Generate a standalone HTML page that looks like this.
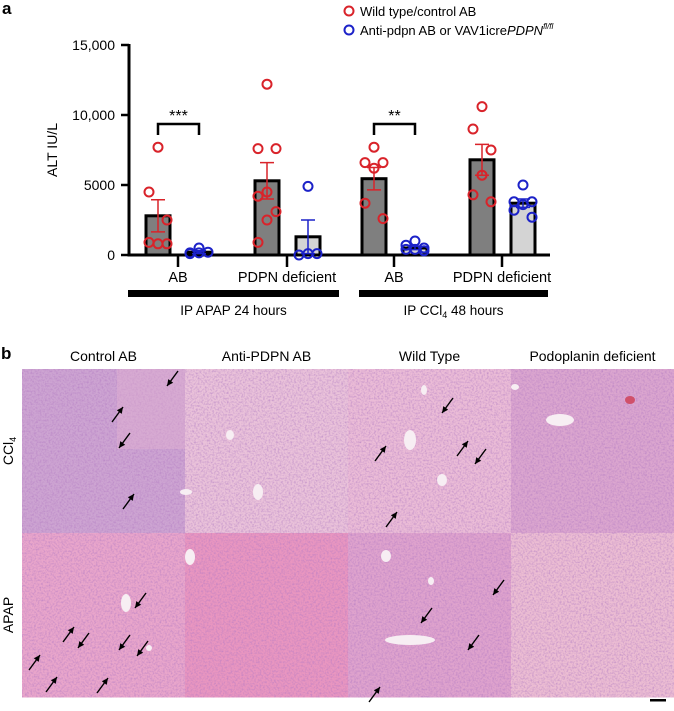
<!DOCTYPE html>
<html><head><meta charset="utf-8">
<style>
body{margin:0;background:#fff;width:674px;height:706px;overflow:hidden;font-family:"Liberation Sans",sans-serif;}
svg text{font-family:"Liberation Sans",sans-serif;}
</style></head>
<body>
<svg id="fig" width="674" height="706" viewBox="0 0 674 706" xmlns="http://www.w3.org/2000/svg">
<defs>
<filter id="tex" x="0" y="0" width="100%" height="100%">
<feTurbulence type="fractalNoise" baseFrequency="0.55" numOctaves="2" seed="3" result="n"/>
<feColorMatrix in="n" type="matrix" values="0 0 0 0 0.45  0 0 0 0 0.2  0 0 0 0 0.55  0 0 0 1.5 -0.6" result="m"/>
<feComposite in="m" in2="SourceGraphic" operator="in" result="c"/>
<feMerge><feMergeNode in="SourceGraphic"/><feMergeNode in="c"/></feMerge>
</filter>
</defs>
<text x="2" y="14" font-size="17" font-weight="bold">a</text>
<g id="legend">
<circle cx="349" cy="11" r="4.5" fill="none" stroke="#d9232a" stroke-width="2"/>
<text x="360" y="16" font-size="13">Wild type/control AB</text>
<circle cx="349" cy="30" r="4.5" fill="none" stroke="#1c22c8" stroke-width="2"/>
<text x="360" y="35" font-size="13">Anti-pdpn AB or VAV1icre<tspan font-style="italic">PDPN</tspan><tspan font-style="italic" font-size="8" dy="-6">fl/fl</tspan></text>
</g>
<g id="chart"></g>
<g id="panelb"></g>
</svg>
<script>
const categories = ["AB","PDPN deficient","AB","PDPN deficient"];
const groupLabels = ["IP APAP 24 hours","IP CCl4 48 hours"];
const yTicks = [0,5000,10000,15000];
const yTickLabels = ["0","5000","10,000","15,000"];
const redMeans = [2800,5300,5450,6800];
const redSem = [1150,1300,800,1100];
const blueMeans = [200,1300,500,3700];
const blueSem = [100,1200,120,300];
const redPoints = [[7700,4500,2500,800,900,800],[12200,7600,7600,4500,4200,3100,2500,900],[7700,6600,6600,6200,3700,2600],[10600,9000,7500,5700,4300,3800]];
const bluePoints = [[500,150,200,150,100],[4900,0,100,100],[1000,700,500,400,400,300],[5000,3800,3800,3600,3200,2700]];
const sigLabels = ["***","","**",""];

const NS="http://www.w3.org/2000/svg";
function mk(tag,attrs,parent){const e=document.createElementNS(NS,tag);for(const k in attrs)e.setAttribute(k,attrs[k]);parent.appendChild(e);return e;}
const chart=document.getElementById('chart');
const y0=255, pxPer=14/1000;
function yS(v){return y0-v*pxPer;}
function xCat(i){return [178,287,394,502][i];}
const bw=24, off=20;

let e=mk('line',{x1:129,y1:44,x2:129,y2:y0+1.5,stroke:'#000','stroke-width':3},chart);


e=mk('line',{x1:127.5,y1:y0,x2:550,y2:y0,stroke:'#000','stroke-width':3},chart);


yTicks.forEach((t,i)=>{
  const l=mk('line',{x1:121,y1:yS(t),x2:129,y2:yS(t),stroke:'#000','stroke-width':2.5},chart);
  
  
  const tx=mk('text',{x:115,y:yS(t)+5,'font-size':14,'text-anchor':'end'},chart);
  tx.textContent=yTickLabels[i];
  
  
});
e=mk('text',{x:0,y:0,'font-size':14,'text-anchor':'middle',transform:'translate(57,150) rotate(-90)'},chart);
e.textContent='ALT IU/L';



categories.forEach((c,i)=>{
  const cx=xCat(i);
  const tk=mk('line',{x1:cx,y1:y0,x2:cx,y2:y0+12,stroke:'#000','stroke-width':2.5},chart);
  
  
  const t=mk('text',{x:cx,y:282,'font-size':14.5,'text-anchor':'middle'},chart);
  t.textContent=c;
  
  
  const rx=cx-off, bx=cx+off+1;
  const rb=mk('rect',{x:rx-bw/2,y:yS(redMeans[i]),width:bw,height:y0-yS(redMeans[i]),fill:'#7f7f7f',stroke:'#000','stroke-width':3},chart);
  
  
  const bb=mk('rect',{x:bx-bw/2,y:yS(blueMeans[i]),width:bw,height:y0-yS(blueMeans[i]),fill:'#d4d4d4',stroke:'#000','stroke-width':3},chart);
  
  
  [[rx,redMeans[i],redSem[i],'#d9232a'],[bx,blueMeans[i],blueSem[i],'#1c22c8']].forEach(a=>{
    const g=mk('path',{d:`M${a[0]},${yS(a[1]-a[2])}V${yS(a[1]+a[2])}M${a[0]-7},${yS(a[1]+a[2])}H${a[0]+7}M${a[0]-7},${yS(a[1]-a[2])}H${a[0]+7}`,stroke:a[3],'stroke-width':1.5,fill:'none'},chart);
    
    
  });
  [[rx,redPoints[i],'#d9232a','point-wild-type'],[bx,bluePoints[i],'#1c22c8','point-pdpn']].forEach(a=>{
    a[1].forEach((v,j)=>{
      const spread=(j%3===0)?0:(j%3===1?-9:9);
      const p=mk('circle',{cx:a[0]+spread,cy:yS(v),r:4.5,fill:'none',stroke:a[2],'stroke-width':2},chart);
      
      
    });
  });
  if(sigLabels[i]){
    const top=Math.min(yS(Math.max(...redPoints[i]))-18,124);
    const br=mk('path',{d:`M${rx},${top+11}V${top}H${bx}V${top+11}`,stroke:'#000','stroke-width':2.5,fill:'none'},chart);
    
    
    const st=mk('text',{x:(rx+bx)/2,y:top-3,'font-size':16,'text-anchor':'middle'},chart);
    st.textContent=sigLabels[i];
    
    
  }
});
[[128,339],[359,548]].forEach((r,i)=>{
  const b=mk('rect',{x:r[0],y:290,width:r[1]-r[0],height:7,fill:'#000'},chart);
  
  
  const t=mk('text',{x:(r[0]+r[1])/2,y:315,'font-size':13.5,'text-anchor':'middle'},chart);
  if(i===0){t.textContent=groupLabels[0];}
  else{t.textContent='IP CCl';const s=mk('tspan',{'font-size':9,dy:3},t);s.textContent='4';const s2=mk('tspan',{dy:-3},t);s2.textContent=' 48 hours';}
  
  
});

const pb=document.getElementById('panelb');
e=mk('text',{x:1,y:359,'font-size':17,'font-weight':'bold'},pb);e.textContent='b';


const colTitles=["Control AB","Anti-PDPN AB","Wild Type","Podoplanin deficient"];
const colors=[["#cda4d2","#eac2da","#ebbcd7","#dba6cf"],["#e9a6cb","#e996c0","#dfa3cd","#ecbdd3"]];
const X0=22,W=163,Y0=369,H=164;
colTitles.forEach((t,i)=>{
  const tx=mk('text',{x:X0+W*i+W/2,y:361,'font-size':14,'text-anchor':'middle'},pb);
  tx.textContent=t;
  
  
});
for(let r=0;r<2;r++)for(let c=0;c<4;c++){
  const im=mk('rect',{x:X0+W*c,y:Y0+H*r,width:W+0.5,height:H+0.5,fill:colors[r][c],filter:'url(#tex)'},pb);
  
  
}
mk('rect',{x:X0+95,y:Y0,width:68,height:80,fill:'#e7b5d3',opacity:0.4},pb);
[[560,420,14,6],[515,387,4,3],[410,440,6,10],[442,480,5,6],[424,390,3,5],[230,435,4,5],[258,492,5,8],[186,492,6,3],[190,557,5,8],[126,603,5,9],[410,640,25,5],[431,581,3,4],[386,556,5,6],[149,648,3,3]].forEach(v=>{
  const el=mk('ellipse',{cx:v[0],cy:v[1],rx:v[2],ry:v[3],fill:'#f7eef3'},pb);
  
  
});
mk('ellipse',{cx:630,cy:400,rx:5,ry:4,fill:'#d0506a'},pb);
const arrows=[[167,386,1],[123,407,-1],[119,448,1],[134,494,-1],[135,608,1],[74,627,-1],[78,648,1],[119,650,1],[40,655,-1],[57,677,-1],[137,656,1],[108,678,-1],[442,413,1],[386,446,-1],[468,441,-1],[475,464,1],[397,512,-1],[493,595,1],[421,623,1],[468,650,1],[380,687,-1]];
arrows.forEach(a=>{
  const [x,y,d]=a;
  const sx = d===1? x+11 : x-11, sy = d===1? y-15 : y+15;
  const ar=mk('g',{},pb);
  
  
  mk('line',{x1:sx,y1:sy,x2:x,y2:y,stroke:'#000','stroke-width':1.4},ar);
  const ang=Math.atan2(y-sy,x-sx);
  const L=7,w=0.45;
  mk('polygon',{points:`${x},${y} ${x-L*Math.cos(ang-w)},${y-L*Math.sin(ang-w)} ${x-L*Math.cos(ang+w)},${y-L*Math.sin(ang+w)}`,fill:'#000'},ar);
});
e=mk('text',{x:0,y:0,'font-size':14,'text-anchor':'middle',transform:'translate(13,451) rotate(-90)'},pb);
e.textContent='CCl';const s=mk('tspan',{'font-size':9,dy:3},e);s.textContent='4';


e=mk('text',{x:0,y:0,'font-size':14,'text-anchor':'middle',transform:'translate(13,615) rotate(-90)'},pb);
e.textContent='APAP';


e=mk('rect',{x:650,y:699,width:16,height:2.5,fill:'#000'},pb);


</script>
</body></html>
